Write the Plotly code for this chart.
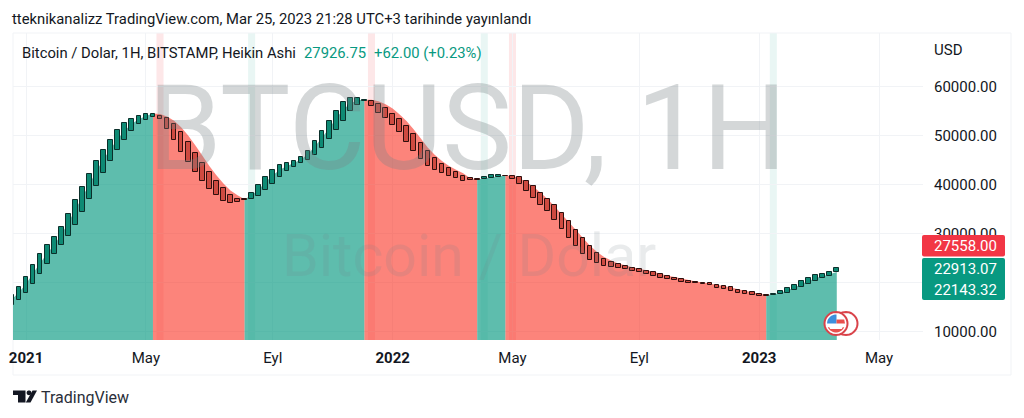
import math
import plotly.graph_objects as go

# Weekly bars, index -1 = week of 2020-12-21
bar_index = list(range(-1, 117))
body_top = [17449, 19021, 21184, 23633, 25817, 27592, 29347, 31388, 33980, 36837, 39429, 42143, 44857, 47102, 49143, 51123, 52612, 53429, 53980, 54388, 54388,
            53918, 53571, 52408, 50776, 48612, 46490, 44449, 42551, 40776, 39225, 37918, 37102, 37102,
            38327, 39837, 41531, 43020, 44041, 44449, 44857, 45551, 46837, 48816, 50857, 52898, 55061, 56776, 57653, 57592, 57245,
            56980, 56429, 55551, 54449, 53306, 52000, 50245, 48531, 46776, 45408, 44245, 43306, 42490, 41796, 41327, 41123,
            41592, 42000, 41939,
            41796, 41735, 41470, 40776, 39694, 38327, 37041, 35816, 34184, 32490, 30776, 29082, 27388, 26021, 24857, 24123, 23776, 23368, 22959, 22817, 22408, 22082, 21674, 21266, 20980, 20654, 20306, 20102, 19960, 19837, 19551, 19347, 19021, 18531, 18204, 18000, 17653, 17388,
            17592, 18204, 18878, 19551, 20245, 20857, 21470, 21735, 22082, 22913]
body_bottom = [15409, 16429, 17796, 19633, 21674, 23715, 25755, 27592, 29490, 31796, 34388, 36980, 39633, 42286, 44735, 46980, 49082, 50857, 52286, 53102, 53776,
               53306, 51388, 49020, 46571, 44531, 42490, 40653, 39143, 37857, 36694, 36163, 36367, 36776,
               36980, 37653, 38878, 40163, 41592, 42816, 43633, 44327, 45000, 45959, 47388, 49224, 51123, 53020, 54939, 56286, 56980,
               55959, 54653, 53510, 52143, 50653, 48735, 46898, 45143, 43837, 42959, 42286, 41674, 41266, 40776, 40857, 40980,
               41123, 41388, 41592,
               41674, 41123, 40041, 38735, 37184, 35816, 34694, 32816, 30980, 29082, 27388, 25816, 24653, 23919, 23429, 23164, 23021, 22694, 22408, 22205, 21796, 21388, 20980, 20654, 20449, 20164, 19960, 19837, 19755, 19429, 18878, 18613, 18266, 17857, 17592, 17388, 17245, 17245,
               17388, 17592, 17919, 18470, 19082, 19694, 20368, 20857, 21327, 22143]
candle_up = [1]*21 + [0]*13 + [1]*17 + [0]*16 + [1]*3 + [0]*38 + [1]*10

area_top = [16600, 18000, 19700, 21900, 24000, 25900, 27700, 29800, 32200, 34900, 37500, 40100, 42800, 45200, 47300, 49300, 51000, 52400, 53300, 54000, 54500,
            54400, 53900, 53000, 51700, 50000, 48000, 45900, 43800, 41900, 40200, 38800, 37800, 37000,
            37800, 39000, 40500, 41900, 43000, 43800, 44400, 45100, 46200, 47800, 49600, 51500, 53500, 55300, 56600, 57200, 57300,
            57300, 57000, 56400, 55500, 54300, 52900, 51200, 49400, 47500, 46000, 44800, 43800, 43000, 42300, 41300, 41000,
            41200, 41500, 41700,
            41800, 41800, 41300, 40500, 39500, 38300, 37000, 35500, 33900, 32300, 30700, 29100, 27500, 26200, 25200, 24500, 23900, 23500, 23100, 22800, 22500, 22200, 21800, 21400, 21100, 20800, 20500, 20200, 20000, 19800, 19500, 19300, 19000, 18600, 18300, 18000, 17700, 17500,
            17500, 17900, 18400, 19000, 19700, 20300, 20900, 21300, 21700, 22143]

# (first bar, last bar, is_up) of the coloured area regions
area_regions = [(-1, 19, 1), (19, 32, 0), (32, 49, 1), (49, 65, 0), (65, 69, 1), (69, 106, 0), (106, 116, 1)]
flip_bars = [20, 33, 50, 66, 70, 107]
flip_up = [0, 1, 0, 1, 0, 1]

x_tick_index = [1, 18, 36, 53, 70, 88, 105, 122]
x_tick_text = ["<b>2021</b>", "May", "Eyl", "<b>2022</b>", "May", "Eyl", "<b>2023</b>", "May"]
y_tick_values = [10000, 20000, 30000, 40000, 50000, 60000]
# the 20000.00 label sits fully behind the price tags in the reference
y_tick_text = ["10000.00", "", "30000.00", "40000.00", "50000.00", "60000.00"]

title_text = "tteknikanalizz TradingView.com, Mar 25, 2023 21:28 UTC+3 tarihinde yayınlandı"
legend_text = "Bitcoin / Dolar, 1H, BITSTAMP, Heikin Ashi"
legend_price = "27926.75"
legend_change = "+62.00 (+0.23%)"

W, H = 1024, 418
L, R, T, B = 13, 923, 33, 340
X_RANGE = [-0.85, 128.23]
Y_RANGE = [8265, 70918]
def xp(px): return (px - L) / (R - L)
def yp(py): return (B - py) / (B - T)

FONT = "Roboto"
INK = "#131722"
TEAL = "#089981"
GRID = "#f1f3f6"

fig = go.Figure()

for a, b, up in area_regions:
    i0, i1 = a + 1, b + 2
    fig.add_trace(go.Scatter(
        x=bar_index[i0:i1], y=area_top[i0:i1], mode="none", fill="tozeroy",
        fillcolor="rgba(8,153,129,0.65)" if up else "rgba(250,50,35,0.6)",
        hoverinfo="skip", showlegend=False))

fig.add_trace(go.Bar(
    x=bar_index,
    y=[t - b for t, b in zip(body_top, body_bottom)],
    base=body_bottom,
    width=0.66,
    marker=dict(
        color=["#0e8a74" if u else "#cf4a40" for u in candle_up],
        line=dict(color=["#0b2f2a" if u else "#2e0f0d" for u in candle_up], width=1)),
    yaxis="y2", showlegend=False, hoverinfo="skip"))

shapes = []
for i, up in zip(flip_bars, flip_up):
    shapes.append(dict(type="rect", layer="below", xref="x", yref="paper", x0=i - 0.5, x1=i + 0.5, y0=0, y1=1,
                       line_width=0,
                       fillcolor="rgba(8,153,129,0.09)" if up else "rgba(242,54,69,0.12)"))

# outer frame of the chart
shapes.append(dict(type="rect", layer="below", xref="paper", yref="paper",
                   x0=xp(13), x1=xp(1011), y0=yp(375), y1=yp(33), line=dict(color=GRID, width=1)))

def rrect(x0, y0, x1, y1, r, color):
    p = (f"M{xp(x0+r)},{yp(y0)} L{xp(x1-r)},{yp(y0)} Q{xp(x1)},{yp(y0)} {xp(x1)},{yp(y0+r)} "
         f"L{xp(x1)},{yp(y1-r)} Q{xp(x1)},{yp(y1)} {xp(x1-r)},{yp(y1)} "
         f"L{xp(x0+r)},{yp(y1)} Q{xp(x0)},{yp(y1)} {xp(x0)},{yp(y1-r)} "
         f"L{xp(x0)},{yp(y0+r)} Q{xp(x0)},{yp(y0)} {xp(x0+r)},{yp(y0)} Z")
    return dict(type="path", xref="paper", yref="paper", path=p, fillcolor=color, line_width=0)

shapes.append(rrect(922, 235, 1005, 256.5, 2, "#f23645"))
shapes.append(rrect(922, 258, 1005, 300, 2, TEAL))

def poly(pts, color, line=None, lw=0):
    p = "M" + " L".join(f"{xp(x)},{yp(y)}" for x, y in pts) + " Z"
    return dict(type="path", xref="paper", yref="paper", path=p, fillcolor=color,
                line=dict(color=line or color, width=lw))

def arc(cx, cy, r, a0, a1, n=40):
    return [(cx + r*math.cos(math.radians(a0 + (a1-a0)*k/n)), cy + r*math.sin(math.radians(a0 + (a1-a0)*k/n))) for k in range(n+1)]

# TradingView logo
shapes.append(poly([(13, 390.5), (25.5, 390.5), (25.5, 402.5), (18, 402.5), (18, 395), (13, 395)], "#131722"))
shapes.append(poly(arc(29, 392.8, 2.4, 0, 360, 24), "#131722"))
shapes.append(poly([(32.5, 390.5), (37, 390.5), (30.5, 402.5), (25.8, 402.5)], "#131722"))

# economic event badge
RED = "#d9434a"
shapes.append(poly(arc(846, 323.5, 11.5, 0, 360), "#ffffff", RED, 2))
shapes.append(poly(arc(836, 323.5, 11.5, 0, 360), "#ffffff", RED, 2))
cx, cy, r = 836, 323.5, 9
shapes.append(poly([(cx-8.7, cy-2)] + arc(cx, cy, r, 193, 270, 12) + [(cx+0.5, cy-9), (cx+0.5, cy)] + [(cx-9, cy)], "#3d8fdc"))
shapes.append(poly([(cx+0.5, cy-4), (cx+8.2, cy-4), (cx+9, cy), (cx+0.5, cy)], "#e8504e"))
shapes.append(poly(arc(cx, cy, r, 25, 155, 20), "#e8504e"))
shapes.append(poly([(cx-7, cy+3), (cx+7, cy+3), (cx+5.8, cy+5.5), (cx-5.8, cy+5.5)], "#ffffff"))

def ann(text, px, py, size, color=INK, anchor="left"):
    return dict(text=text, x=xp(px), y=yp(py), xref="paper", yref="paper", showarrow=False,
                xanchor=anchor, yanchor="middle", font=dict(family=FONT, size=size, color=color), borderpad=0, borderwidth=0)

annotations = [
    ann("BTCUSD, 1H", 467, 129, 118, "rgba(120,130,135,0.32)", "center"),
    ann("Bitcoin / Dolar", 469, 255, 59, "rgba(120,130,135,0.16)", "center"),
    ann(title_text, 12, 19, 14.8),
    ann(legend_text, 22, 53, 14.8),
    ann(legend_price, 304, 53, 14.8, TEAL),
    ann(legend_change, 374, 53, 14.8, TEAL),
    ann("USD", 934, 50, 15),
    ann("27558.00", 934, 246, 15, "#ffffff"),
    ann("22913.07", 934, 269, 15, "#ffffff"),
    ann("22143.32", 934, 290, 15, "#ffffff"),
    ann("TradingView", 41, 397, 16, "#2a2e39"),
]

axis_common = dict(showline=False, zeroline=False, ticks="", automargin=False)
fig.update_layout(
    width=W, height=H, autosize=False,
    margin=dict(l=L, r=W-R, t=T, b=H-B, pad=0),
    paper_bgcolor="#ffffff", plot_bgcolor="#ffffff",
    showlegend=False, bargap=0,
    font=dict(family=FONT, color=INK, size=15),
    xaxis=dict(range=X_RANGE, tickmode="array", tickvals=x_tick_index, ticktext=x_tick_text,
               showgrid=True, gridcolor=GRID, gridwidth=1, ticklabelstandoff=7, tickangle=0,
               tickfont=dict(family=FONT, size=15, color=INK), **axis_common),
    yaxis=dict(range=Y_RANGE, side="right", tickmode="array", tickvals=y_tick_values, ticktext=y_tick_text,
               showgrid=True, gridcolor=GRID, gridwidth=1, ticklabelstandoff=10,
               tickfont=dict(family=FONT, size=15, color=INK), **axis_common),
    yaxis2=dict(range=Y_RANGE, overlaying="y", side="right", visible=False, showgrid=False, automargin=False),
    shapes=shapes, annotations=annotations,
)

fig.write_html("out.html", config=dict(displayModeBar=False),
               post_script="document.body.style.margin='0';")
